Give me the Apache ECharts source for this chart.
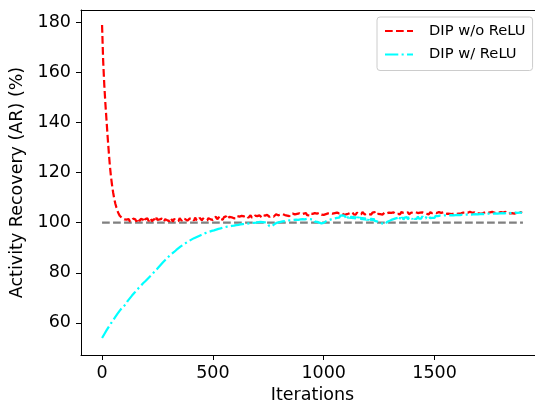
<!DOCTYPE html>
<html>
<head>
<meta charset="utf-8">
<script src="https://cdn.jsdelivr.net/npm/echarts@6/dist/echarts.min.js"></script>
<style>
html,body{margin:0;padding:0;background:#fff;overflow:hidden;}
#chart{width:535px;height:404px;}
</style>
</head>
<body>
<div id="chart"></div>
<script>
// Iterations sampled every 5 steps (0 .. 1895)
const iterations = [];
for (let i = 0; i < 380; i++) iterations.push(i * 5);

// DIP w/o ReLU (red, dashed)
const redValues = [
  178.8, 164.5, 155.0, 147.5, 141.0, 134.5, 128.5, 123.0, 118.5, 115.0,
  112.0, 109.5, 107.5, 106.0, 104.6, 103.5, 102.7, 102.1, 101.8, 101.5,
  101.3, 101.0, 101.2, 100.7,
  101.4, 100.6, 101.1, 100.5, 101.6, 100.9, 101.3, 100.4, 101.7, 101.0, 100.6, 101.5, 100.8, 101.2, 100.3, 101.4,
  100.9, 101.7, 100.6, 101.2, 101.8, 100.5, 101.0, 101.5, 100.7, 101.9, 101.1, 100.4, 101.3, 100.8, 101.6, 101.0, 100.5, 101.4, 101.8, 100.9,
  101.2, 100.6, 101.7, 101.0, 100.4, 101.5, 101.9, 100.8, 101.3, 100.6, 101.8, 101.1, 100.7, 101.6, 100.9, 101.4, 102.0, 100.8, 101.2, 101.6,
  100.9, 101.8, 101.3, 100.8, 102.0, 101.2, 101.6, 100.9, 101.9, 101.4, 100.9, 101.7, 102.1, 101.1, 101.5, 100.9, 101.8, 102.2, 101.3, 101.6,
  101.1, 102.0, 101.5, 102.3, 101.3, 101.8, 102.4, 101.4, 101.9, 101.2, 102.2, 101.7, 102.5, 101.5, 101.9, 102.3, 101.6, 102.1, 102.6, 101.7,
  102.2, 101.8, 102.6, 102.0, 102.4, 101.7, 102.7, 102.1, 102.5, 101.9, 102.8, 102.2, 101.9, 102.6, 102.9, 102.1, 102.5, 102.0, 102.8, 102.3,
  102.6, 102.0, 102.9, 102.4, 102.2, 103.0, 102.5, 102.8, 102.1, 103.1, 102.6, 102.3, 103.0, 102.7, 103.2, 102.4, 102.9, 103.3, 102.6, 102.9,
  102.5, 103.2, 102.8, 103.4, 102.7, 103.0, 103.5, 102.8, 103.2, 102.6, 103.4, 103.0, 103.6, 102.9, 103.3, 102.8, 103.5, 103.1, 103.7, 103.0,
  103.3, 102.9, 103.6, 103.2, 103.8, 103.0, 103.4, 102.9, 103.7, 103.2, 103.5, 103.0, 103.8, 103.3, 103.6, 103.1, 103.9, 103.4, 103.2, 103.7,
  103.1, 103.8, 103.4, 103.0, 103.7, 103.3, 103.9, 103.2, 103.6, 103.0, 103.8, 103.4, 104.0, 103.3, 103.7, 103.1, 103.9, 103.5, 103.2, 103.8,
  103.3, 104.0, 103.5, 103.1, 103.9, 103.4, 104.1, 103.3, 103.7, 103.2, 104.0, 103.6, 103.3, 103.9, 103.4, 104.2, 103.5, 103.2, 103.8, 103.6,
  104.1, 103.4, 103.8, 103.2, 104.0, 103.5, 104.2, 103.3, 103.7, 103.5, 104.1, 103.4, 103.9, 103.2, 103.8, 104.0, 103.4, 103.7, 103.3, 104.0,
  103.5, 103.9, 103.3, 104.1, 103.6, 103.4, 104.0, 103.5, 103.8, 103.3, 104.2, 103.6, 103.9, 103.4, 103.8, 103.5, 104.1, 103.3, 103.7, 104.0,
  103.4, 103.9, 103.6, 104.2, 103.5, 103.8, 103.3, 104.0, 103.6, 104.1, 103.4, 103.7, 104.0, 103.5, 103.9, 103.3, 104.1, 103.6, 103.8, 103.5,
  104.0, 103.4, 103.8, 103.6, 104.2, 103.5, 103.9, 103.4, 104.1, 103.7, 103.5, 104.0, 103.6, 104.3, 103.5, 103.8, 103.4, 104.0, 103.7, 104.1,
  103.5, 103.9, 103.6, 104.2, 103.7, 103.4, 104.0, 103.6, 104.1, 103.5, 103.9, 103.7, 104.3, 103.6, 103.9, 103.5, 104.1, 103.8, 103.6, 104.2,
  103.7, 104.0, 103.5, 104.1, 103.8, 103.6, 104.2, 103.7, 103.9, 103.5, 104.1, 103.8, 104.3, 103.6, 103.9, 103.7, 104.2, 103.5, 104.0, 103.8,
  104.2, 103.6, 104.0, 103.7, 104.3, 103.8, 103.6, 104.1, 103.7, 104.2, 103.8, 104.0, 103.6, 104.3, 103.9, 103.7, 104.1, 103.8, 104.2, 103.9
];

// DIP w/ ReLU (cyan, dash-dot)
const cyanValues = [
  54.0, 54.6, 55.5, 56.0, 57.0, 57.5, 58.4, 58.9, 59.8, 60.3, 61.1, 61.5, 62.4, 62.8, 63.7, 64.0, 64.9, 65.2, 66.0, 66.3,
  66.8, 67.5, 67.9, 68.7, 69.0, 69.8, 70.1, 70.9, 71.1, 71.9, 72.2, 72.9, 73.1, 73.9, 74.1, 74.8, 75.0, 75.8, 75.9, 76.6,
  76.7, 77.5, 77.6, 78.4, 78.6, 79.3, 79.5, 80.3, 80.4, 81.2, 81.3, 82.2, 82.3, 83.2, 83.3, 84.2, 84.3, 85.1, 85.2, 86.0,
  86.1, 86.8, 86.9, 87.6, 87.6, 88.3, 88.4, 89.1, 89.1, 89.8, 89.9, 90.5, 90.5, 91.1, 91.1, 91.7, 91.7, 92.3, 92.2, 92.8,
  92.7, 93.3, 93.2, 93.8, 93.6, 94.2, 94.0, 94.6, 94.4, 95.0, 94.8, 95.4, 95.2, 95.8, 95.5, 96.1, 95.8, 96.4, 96.1, 96.7,
  96.4, 96.9, 96.7, 97.2, 96.9, 97.5, 97.2, 97.7, 97.4, 98.0, 97.6, 98.2, 97.8, 98.4, 98.0, 98.5, 98.1, 98.7, 98.3, 98.8,
  98.4, 99.0, 98.5, 99.1, 98.7, 99.3, 98.8, 99.4, 98.9, 99.5, 99.0, 99.6, 99.1, 99.7, 99.3, 99.8, 99.4, 99.9, 99.5, 100.0,
  99.6, 100.2, 99.7, 100.3, 99.8, 100.2, 99.6, 100.1, 99.5, 99.7, 99.0, 98.6, 98.2, 98.5, 98.7, 99.2, 99.3, 99.8, 99.5, 100.1,
  99.7, 100.3, 99.8, 100.5, 99.9, 100.6, 100.1, 100.8, 100.2, 100.9, 100.3, 101.0, 100.4, 101.1, 100.5, 101.2, 100.6, 101.1, 100.5, 101.3,
  100.6, 101.4, 100.7, 101.3, 100.8, 101.5, 100.9, 101.4, 100.7, 101.3, 100.6, 101.2, 100.4, 101.0, 100.3, 100.8, 100.0, 100.5, 99.7, 100.2,
  99.9, 100.6, 100.5, 101.1, 100.9, 101.6, 101.2, 101.9, 101.5, 102.2, 101.7, 102.4, 101.9, 102.6, 102.0, 102.8, 102.1, 102.9, 102.2, 102.7,
  101.9, 102.7, 101.8, 102.6, 101.7, 102.5, 101.6, 102.4, 101.5, 102.3, 101.4, 102.2, 101.3, 102.1, 101.2, 102.0, 101.1, 101.9, 101.0, 101.8,
  101.0, 101.8, 100.9, 101.7, 100.8, 101.6, 100.7, 101.4, 100.5, 101.1, 100.2, 100.6, 99.8, 100.1, 99.5, 99.8, 99.4, 100.2, 99.9, 100.6,
  100.3, 101.1, 100.6, 101.4, 100.9, 101.7, 101.0, 101.9, 101.1, 102.0, 101.2, 102.1, 101.2, 102.0, 101.3, 102.2, 101.3, 102.1, 101.4, 102.2,
  101.4, 102.3, 101.5, 102.2, 101.5, 102.4, 101.6, 102.3, 101.6, 102.5, 101.7, 102.4, 101.7, 102.5, 101.8, 102.6, 101.8, 102.5, 101.9, 102.6,
  101.9, 102.7, 102.0, 102.6, 102.0, 102.8, 102.1, 102.7, 102.1, 102.9, 102.2, 102.8, 102.2, 102.9, 102.3, 103.0, 102.3, 102.9, 102.4, 103.0,
  102.4, 103.1, 102.5, 103.0, 102.5, 103.2, 102.6, 103.1, 102.6, 103.2, 102.7, 103.3, 102.7, 103.2, 102.8, 103.3, 102.8, 103.4, 102.9, 103.3,
  102.9, 103.4, 102.9, 103.5, 103.0, 103.4, 103.0, 103.5, 103.1, 103.6, 103.1, 103.5, 103.1, 103.6, 103.2, 103.7, 103.2, 103.6, 103.3, 103.7,
  103.3, 103.8, 103.3, 103.7, 103.4, 103.8, 103.4, 103.9, 103.4, 103.8, 103.5, 103.9, 103.5, 104.0, 103.5, 103.9, 103.6, 104.0, 103.6, 104.0
];

// Reference line at 100 %
const refX = [0, 1899];
const refY = [100, 100];

const xTicks = [0, 500, 1000, 1500];
const yTicks = [60, 80, 100, 120, 140, 160, 180];

const seriesNames = ['DIP w/o ReLU', 'DIP w/ ReLU'];

const pair = (xs, ys) => xs.map((x, i) => [x, ys[i]]);

const FONT = 'DejaVu Sans';
const X_MIN = -95, X_MAX = 1994;
const chart = echarts.init(document.getElementById('chart'), null, {renderer: 'canvas'});
chart.setOption({
  animation: false,
  backgroundColor: '#ffffff',
  textStyle: {fontFamily: FONT},
  grid: {
    left: 81, top: 10, width: 463, height: 345,
    outerBoundsMode: 'none', show: false
  },
  legend: {
    orient: 'vertical',
    left: 377, top: 17,
    data: seriesNames,
    itemWidth: 28, itemHeight: 14, itemGap: 7.5,
    padding: [6, 7, 8, 7],
    backgroundColor: '#fff',
    borderColor: '#cccccc', borderWidth: 1, borderRadius: 3,
    itemStyle: {opacity: 0},
    textStyle: {fontFamily: FONT, fontSize: 14.7, color: '#000', lineHeight: 16, padding: [0, 0, 0, 11]}
  },
  xAxis: [
    {
      type: 'value', min: X_MIN, max: X_MAX, position: 'bottom',
      name: 'Iterations', nameLocation: 'middle', nameGap: 31,
      nameTextStyle: {fontFamily: FONT, fontSize: 17.5, color: '#000'},
      axisLine: {show: true, onZero: false, lineStyle: {color: '#000', width: 1}},
      axisTick: {show: true, length: 5, customValues: xTicks},
      axisLabel: {show: true, margin: 9, customValues: xTicks, formatter: v => String(v), fontFamily: FONT, fontSize: 17.5, color: '#000'},
      splitLine: {show: false}
    },
    {
      type: 'value', min: X_MIN, max: X_MAX, position: 'top',
      axisLine: {show: true, onZero: false, lineStyle: {color: '#000', width: 1}},
      axisTick: {show: false}, axisLabel: {show: false}, splitLine: {show: false}
    }
  ],
  yAxis: {
    type: 'value', min: 47.2, max: 184.8,
    name: 'Activity Recovery (AR) (%)', nameLocation: 'middle', nameGap: 47, nameRotate: 90,
    nameTextStyle: {fontFamily: FONT, fontSize: 17.5, color: '#000'},
    axisLine: {show: true, onZero: false, lineStyle: {color: '#000', width: 1}},
    axisTick: {show: true, length: 5, customValues: yTicks},
    axisLabel: {show: true, margin: 10, customValues: yTicks, formatter: v => String(v), fontFamily: FONT, fontSize: 17.5, color: '#000'},
    splitLine: {show: false}
  },
  series: [
    {
      name: 'ref', type: 'line', z: 1, xAxisIndex: 0,
      data: pair(refX, refY),
      symbol: 'none', silent: true,
      lineStyle: {color: '#808080', width: 2.1, type: [7.7, 3.3]}
    },
    {
      name: seriesNames[0], type: 'line', z: 2, xAxisIndex: 0,
      data: pair(iterations, redValues),
      symbol: 'none', showSymbol: false,
      itemStyle: {color: '#ff0000'},
      lineStyle: {color: '#ff0000', width: 2.2, type: [7.7, 3.3]}
    },
    {
      name: seriesNames[1], type: 'line', z: 3, xAxisIndex: 0,
      data: pair(iterations, cyanValues),
      symbol: 'none', showSymbol: false,
      itemStyle: {color: '#00ffff'},
      lineStyle: {color: '#00ffff', width: 2.2, type: [13.3, 3.3, 2.1, 3.3]}
    }
  ]
});
</script>
</body>
</html>
